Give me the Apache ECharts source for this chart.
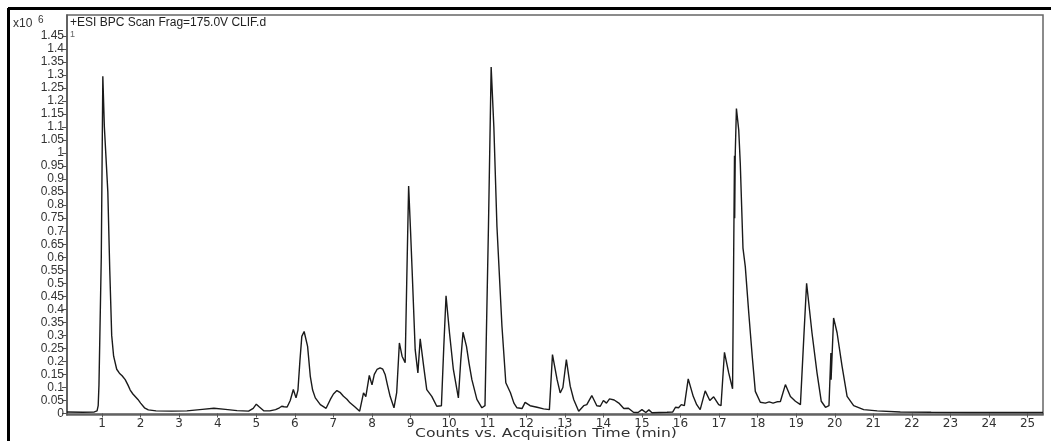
<!DOCTYPE html>
<html>
<head>
<meta charset="utf-8">
<script src="https://cdn.jsdelivr.net/npm/echarts@6/dist/echarts.min.js"></script>
<style>
html,body{margin:0;padding:0;background:#fff;}
#chart{width:1051px;height:441px;}
</style>
</head>
<body>
<div id="chart"></div>
<script>
// Retention times (min)
var times = [0.09,0.5,0.8,0.87,0.9,0.92,0.96,0.98,1.02,1.06,1.15,1.2,1.25,1.3,1.38,1.45,1.52,1.6,1.67,1.73,1.8,1.93,2.0,2.1,2.2,2.4,2.8,3.2,3.6,3.9,4.2,4.5,4.8,4.92,5.0,5.08,5.2,5.35,5.5,5.6,5.66,5.72,5.8,5.88,5.96,6.03,6.08,6.13,6.18,6.24,6.33,6.4,6.46,6.53,6.66,6.81,6.92,7.0,7.09,7.18,7.26,7.35,7.43,7.56,7.68,7.78,7.84,7.87,7.93,8.0,8.06,8.13,8.21,8.28,8.34,8.4,8.47,8.57,8.64,8.71,8.78,8.86,8.9,8.95,9.0,9.04,9.12,9.19,9.25,9.34,9.42,9.55,9.68,9.8,9.86,9.92,10.01,10.11,10.24,10.3,10.36,10.45,10.52,10.59,10.72,10.85,10.93,11.02,11.09,11.16,11.24,11.37,11.47,11.59,11.68,11.76,11.89,11.97,12.1,12.28,12.45,12.6,12.68,12.8,12.88,12.95,13.04,13.14,13.23,13.36,13.49,13.57,13.7,13.83,13.92,14.0,14.08,14.16,14.28,14.4,14.53,14.65,14.78,14.9,15.0,15.1,15.18,15.26,15.45,15.65,15.8,15.87,15.95,16.02,16.1,16.2,16.33,16.42,16.51,16.64,16.76,16.86,16.99,17.05,17.14,17.25,17.35,17.4,17.405,17.42,17.45,17.47,17.51,17.55,17.62,17.68,17.77,17.86,17.94,18.07,18.2,18.3,18.4,18.5,18.59,18.72,18.85,18.98,19.11,19.2,19.27,19.3,19.41,19.54,19.65,19.76,19.85,19.9,19.905,19.97,20.06,20.19,20.32,20.49,20.75,21.1,21.7,22.5,23.5,25.4];
// Counts (x10^6)
var counts = [0.006,0.005,0.006,0.01,0.03,0.11,0.11,0.6,1.295,1.1,0.85,0.55,0.3,0.22,0.17,0.155,0.145,0.13,0.11,0.09,0.075,0.054,0.04,0.022,0.014,0.01,0.009,0.01,0.016,0.02,0.016,0.011,0.009,0.02,0.036,0.025,0.01,0.01,0.015,0.022,0.028,0.026,0.025,0.05,0.092,0.06,0.09,0.2,0.296,0.315,0.258,0.143,0.09,0.06,0.034,0.02,0.054,0.075,0.088,0.08,0.066,0.055,0.041,0.025,0.009,0.079,0.065,0.067,0.146,0.11,0.15,0.169,0.175,0.17,0.15,0.11,0.066,0.022,0.08,0.271,0.22,0.195,0.5,0.873,0.7,0.552,0.245,0.156,0.287,0.181,0.092,0.066,0.028,0.03,0.25,0.452,0.309,0.169,0.06,0.2,0.312,0.258,0.19,0.13,0.054,0.022,0.03,0.718,1.33,1.1,0.718,0.335,0.118,0.08,0.04,0.022,0.019,0.043,0.03,0.024,0.018,0.015,0.226,0.13,0.079,0.1,0.207,0.105,0.054,0.009,0.03,0.034,0.069,0.03,0.028,0.05,0.04,0.056,0.052,0.04,0.019,0.02,0.005,0.004,0.015,0.004,0.014,0.003,0.004,0.005,0.006,0.024,0.022,0.034,0.03,0.133,0.066,0.034,0.015,0.087,0.05,0.064,0.034,0.03,0.235,0.156,0.095,0.99,0.75,1.0,1.171,1.17,1.088,0.96,0.635,0.564,0.386,0.22,0.085,0.043,0.04,0.045,0.04,0.045,0.046,0.111,0.065,0.047,0.034,0.3,0.5,0.505,0.309,0.156,0.047,0.024,0.03,0.232,0.13,0.367,0.31,0.181,0.066,0.03,0.015,0.01,0.006,0.005,0.004,0.004];
// Tick labels
var xTicks = [1,2,3,4,5,6,7,8,9,10,11,12,13,14,15,16,17,18,19,20,21,22,23,24,25];
var yTicks = [0,0.05,0.1,0.15,0.2,0.25,0.3,0.35,0.4,0.45,0.5,0.55,0.6,0.65,0.7,0.75,0.8,0.85,0.9,0.95,1,1.05,1.1,1.15,1.2,1.25,1.3,1.35,1.4,1.45];
var titleText = '+ESI BPC Scan Frag=175.0V CLIF.d';
var xAxisName = 'Counts vs. Acquisition Time (min)';

var seriesData = times.map(function(t, i){ return [t, counts[i]]; });
var FONT = '"Liberation Sans", Arial, sans-serif';
var WIDE = '"DejaVu Sans", sans-serif';

var chart = echarts.init(document.getElementById('chart'), null, {renderer:'canvas'});
chart.setOption({
  animation: false,
  backgroundColor: '#fff',
  grid: {left: 67, right: 8, top: 15, bottom: 26, show: true, borderColor: '#666', borderWidth: 1.5,
         backgroundColor: 'transparent', outerBoundsMode: 'none', containLabel: false},
  xAxis: {
    type: 'value', min: 0.091, max: 25.4,
    axisLine: {show: true, lineStyle: {color: '#555', width: 1.5}},
    axisTick: {show: true, length: 4, inside: false, customValues: xTicks, lineStyle: {color: '#555'}},
    axisLabel: {customValues: xTicks, color: '#333', fontFamily: WIDE, fontSize: 12, margin: 3},
    splitLine: {show: false}
  },
  yAxis: {
    type: 'value', min: -0.0057, max: 1.53,
    axisLine: {show: true, lineStyle: {color: '#555', width: 1.5}},
    axisTick: {show: true, length: 5, inside: false, customValues: yTicks, lineStyle: {color: '#555'}},
    axisLabel: {customValues: yTicks, color: '#333', fontFamily: FONT, fontSize: 12, margin: 3},
    splitLine: {show: false}
  },
  series: [{
    type: 'line', data: seriesData, showSymbol: false, symbol: 'none',
    lineStyle: {color: '#1a1a1a', width: 1.4}, z: 3
  }],
  graphic: [
    {type: 'line', shape: {x1: 8.5, y1: 8, x2: 8.5, y2: 441}, style: {stroke: '#000', lineWidth: 3}, silent: true},
    {type: 'line', shape: {x1: 8, y1: 8.5, x2: 1051, y2: 8.5}, style: {stroke: '#000', lineWidth: 3}, silent: true},
    {type: 'text', x: 70, y: 23, style: {text: titleText, fill: '#222', font: '12px ' + FONT, textVerticalAlign: 'middle'}},
    {type: 'text', x: 13, y: 24, style: {text: 'x10', fill: '#333', font: '12px ' + FONT, textVerticalAlign: 'middle'}},
    {type: 'text', x: 38, y: 20, style: {text: '6', fill: '#333', font: '10px ' + FONT, textVerticalAlign: 'middle'}},
    {type: 'text', x: 70, y: 35, style: {text: '1', fill: '#666', font: '9px ' + FONT, textVerticalAlign: 'middle'}},
    {type: 'text', x: 546, y: 434, scaleX: 1.2, style: {text: xAxisName, fill: '#333', font: '13px ' + WIDE, textAlign: 'center', textVerticalAlign: 'middle'}}
  ]
});
</script>
</body>
</html>
